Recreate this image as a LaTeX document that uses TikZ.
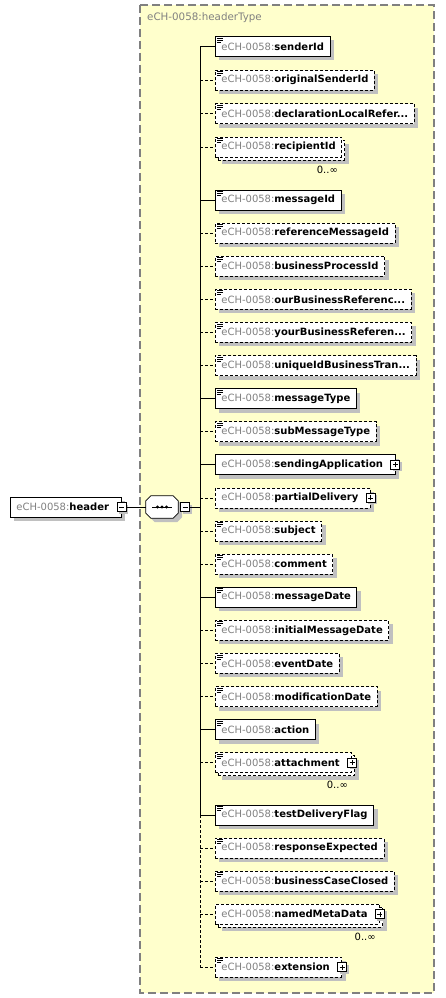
\documentclass[tikz,border=0pt]{standalone}
\usepackage{fontspec}
\setmainfont{DejaVu Sans}
\usetikzlibrary{shadows}
\definecolor{typebg}{RGB}{255,255,204}
\definecolor{prefix}{RGB}{128,128,128}
\definecolor{shade}{RGB}{192,192,192}
\newcommand{\ech}[1]{{\color{prefix}eCH-0058:}\textbf{#1}}
\tikzset{
  el/.style={draw, fill=white, anchor=west, minimum height=20pt, inner xsep=6pt, inner ysep=0pt,
    line width=0.8pt, font=\fontsize{10}{12}\selectfont},
  sh/.style={drop shadow={shadow xshift=4pt, shadow yshift=-4pt, fill=shade, opacity=1}},
  req/.style={el, sh},
  opt/.style={el, dash pattern=on 3pt off 2pt, sh},
  multi/.style={el, dash pattern=on 3pt off 2pt,
    drop shadow={shadow xshift=7pt, shadow yshift=-7pt, fill=shade, opacity=1},
    copy shadow={shadow xshift=3pt, shadow yshift=-3pt, draw=black, fill=white}},
  doc/.style={path picture={
    \draw[solid, line width=0.7pt]
      ([xshift=2pt,yshift=-1.5pt]path picture bounding box.north west) -- ++(6pt,0pt)
      ([xshift=2pt,yshift=-3.5pt]path picture bounding box.north west) -- ++(6pt,0pt)
      ([xshift=2pt,yshift=-5.5pt]path picture bounding box.north west) -- ++(4pt,0pt);}},
  kids/.style={execute at end node={\hspace{6pt}}},
  tinybox/.style={draw, fill=white, solid, minimum size=9pt, inner sep=0pt, line width=0.8pt,
    drop shadow={shadow xshift=2pt, shadow yshift=-2pt, fill=shade, opacity=1}},
  minbox/.style={tinybox,
    path picture={\draw[line width=0.8pt]
      ([xshift=2pt]path picture bounding box.west) -- ([xshift=-2pt]path picture bounding box.east);}},
  plusbox/.style={tinybox,
    path picture={\draw[line width=0.8pt]
      ([xshift=2pt]path picture bounding box.west) -- ([xshift=-2pt]path picture bounding box.east)
      ([yshift=2pt]path picture bounding box.south) -- ([yshift=-2pt]path picture bounding box.north);}},
  seqbox/.style={minimum width=32pt, minimum height=22pt, inner sep=0pt},
  octa/.style={draw, fill=white, line width=0.8pt, sh},
  mult/.style={anchor=north east, inner sep=0pt, font=\fontsize{10}{12}\selectfont},
  link/.style={line width=0.8pt},
  optlink/.style={link, dash pattern=on 3pt off 2pt}
}
\begin{document}
\begin{tikzpicture}[x=1pt,y=-1pt]
  \useasboundingbox (0,0) rectangle (445,998);
  % complex type frame
  \draw[draw=prefix, line width=1.2pt, dash pattern=on 8pt off 4pt, fill=typebg] (140,5) rectangle (434,993);
  \node[anchor=west, inner sep=0pt, text=prefix, font=\fontsize{10.3}{12}\selectfont] (typename) at (147,18) {eCH-0058:headerType};

  % root element and sequence
  \node[req, kids] (header) at (10,507) {\ech{header}};
  \node[minbox] (hmin) at (header.east) {};
  \node[seqbox] (seq) at (162,507) {};
  \draw[octa] ([xshift=5pt]seq.north west) -- ([xshift=-5pt]seq.north east)
    -- ([yshift=-5pt]seq.north east) -- ([yshift=5pt]seq.south east)
    -- ([xshift=-5pt]seq.south east) -- ([xshift=5pt]seq.south west)
    -- ([yshift=5pt]seq.south west) -- ([yshift=-5pt]seq.north west) -- cycle;
  \draw[line width=0.8pt] ([xshift=-10pt]seq.center) -- ([xshift=10pt]seq.center);
  \foreach \dx in {-4.5,0,4.5}
    \fill ([xshift=\dx pt]seq.center) circle (1.6pt);
  \node[minbox] (smin) at (185,507) {};
  \coordinate (spine) at (200,507);
  \draw[link] (hmin.east) -- (seq.west);
  \draw[link] (smin.east) -- (spine);

  % children
  \node[req, doc] (sid) at (215,46.5) {\ech{senderId}};
  \node[opt, doc] (osid) at (215,80) {\ech{originalSenderId}};
  \node[opt, doc] (dlr) at (215,113.5) {\ech{declarationLocalRefer...}};
  \node[multi, doc] (rid) at (215,147) {\ech{recipientId}};
  \node[req, doc] (mid) at (215,200) {\ech{messageId}};
  \node[opt, doc] (rmid) at (215,233.1) {\ech{referenceMessageId}};
  \node[opt, doc] (bpid) at (215,266.2) {\ech{businessProcessId}};
  \node[opt, doc] (obr) at (215,299.3) {\ech{ourBusinessReferenc...}};
  \node[opt, doc] (ybr) at (215,332.4) {\ech{yourBusinessReferen...}};
  \node[opt, doc] (uibt) at (215,365.5) {\ech{uniqueIdBusinessTran...}};
  \node[req, doc] (mtyp) at (215,398.6) {\ech{messageType}};
  \node[opt, doc] (smtyp) at (215,431.7) {\ech{subMessageType}};
  \node[req, kids] (sapp) at (215,464.8) {\ech{sendingApplication}};
  \node[opt, kids] (pdel) at (215,497.9) {\ech{partialDelivery}};
  \node[opt, doc] (subj) at (215,531) {\ech{subject}};
  \node[opt, doc] (comm) at (215,564.1) {\ech{comment}};
  \node[req, doc] (mdat) at (215,597.2) {\ech{messageDate}};
  \node[opt, doc] (imdat) at (215,630.3) {\ech{initialMessageDate}};
  \node[opt, doc] (edat) at (215,663.4) {\ech{eventDate}};
  \node[opt, doc] (modat) at (215,696.5) {\ech{modificationDate}};
  \node[req, doc] (act) at (215,729.6) {\ech{action}};
  \node[multi, doc, kids] (att) at (215,762.5) {\ech{attachment}};
  \node[req, doc] (tdf) at (215,815) {\ech{testDeliveryFlag}};
  \node[opt, doc] (rexp) at (215,848) {\ech{responseExpected}};
  \node[opt, doc] (bcc) at (215,881) {\ech{businessCaseClosed}};
  \node[multi, kids] (nmd) at (215,914) {\ech{namedMetaData}};
  \node[opt, doc, kids] (ext) at (215,967) {\ech{extension}};

  \foreach \n in {sapp,pdel,att,nmd,ext}
    \node[plusbox] (\n-plus) at (\n.east) {};
  \foreach \n in {rid,att,nmd}
    \node[mult] (\n-occ) at ([xshift=-4pt,yshift=-8pt]\n.south east) {0..∞};

  % spine and branches
  \draw[link] (spine |- sid.west) -- (spine |- tdf.west);
  \draw[optlink] (spine |- tdf.west) -- (spine |- ext.west);
  \foreach \n in {sid,mid,mtyp,sapp,mdat,act,tdf}
    \draw[link] (spine |- \n.west) -- (\n.west);
  \foreach \n in {osid,dlr,rid,rmid,bpid,obr,ybr,uibt,smtyp,pdel,subj,comm,imdat,edat,modat,att,rexp,bcc,nmd,ext}
    \draw[optlink] (spine |- \n.west) -- (\n.west);
\end{tikzpicture}
\end{document}
